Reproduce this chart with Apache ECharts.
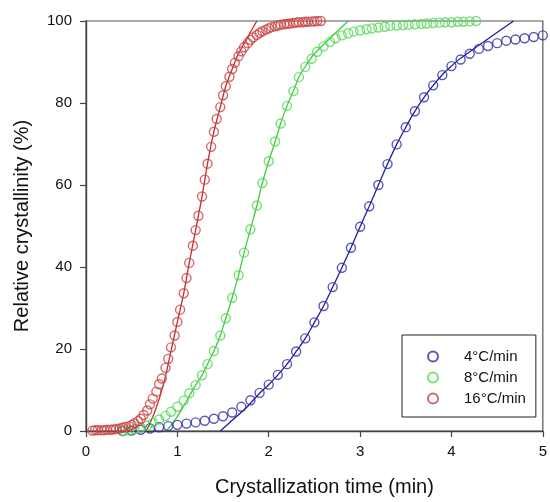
<!DOCTYPE html>
<html>
<head>
<meta charset="utf-8">
<script src="https://cdn.jsdelivr.net/npm/echarts@6/dist/echarts.min.js"></script>
<style>html,body{margin:0;padding:0;background:#fff}#c{width:550px;height:502px}</style>
</head>
<body>
<div id="c"></div>
<script>
// ---- data ----
const xTicks = [0, 1, 2, 3, 4, 5];
const yTicks = [0, 20, 40, 60, 80, 100];
const seriesNames = ['4°C/min', '8°C/min', '16°C/min'];

const blueX = [0.4,0.5,0.6,0.7,0.8,0.9,1.0,1.1,1.2,1.3,1.4,1.5,1.6,1.7,1.8,1.9,2.0,2.1,2.2,2.3,2.4,2.5,2.6,2.7,2.8,2.9,3.0,3.1,3.2,3.3,3.4,3.5,3.6,3.7,3.8,3.9,4.0,4.1,4.2,4.3,4.4,4.5,4.6,4.7,4.8,4.9,5.0];
const blueY = [0,0.1,0.3,0.6,0.9,1.2,1.5,1.8,2.1,2.5,3.0,3.6,4.5,5.9,7.5,9.3,11.3,13.7,16.3,19.4,22.6,26.5,30.5,35.1,39.8,44.7,49.8,54.8,60.0,65.1,69.9,74.1,78.0,81.4,84.3,86.8,89.0,90.6,92.0,93.2,93.9,94.6,95.2,95.5,95.8,96.1,96.5];

const greenX = [0.40,0.47,0.53,0.60,0.67,0.73,0.80,0.87,0.93,1.00,1.07,1.13,1.20,1.27,1.33,1.40,1.47,1.53,1.60,1.67,1.73,1.80,1.87,1.93,2.00,2.07,2.13,2.20,2.27,2.33,2.40,2.47,2.53,2.60,2.67,2.73,2.80,2.87,2.93,3.00,3.07,3.13,3.20,3.27,3.33,3.40,3.47,3.53,3.60,3.67,3.73,3.80,3.87,3.93,4.00,4.07,4.13,4.20,4.27];
const greenY = [0.0,0.1,0.4,0.8,1.3,2.0,2.8,3.7,4.7,5.9,7.4,9.2,11.2,13.6,16.3,19.5,23.3,27.5,32.5,38.0,43.5,49.2,55.0,60.5,65.8,70.6,75.0,79.3,82.9,86.3,88.8,90.8,92.5,93.8,94.9,95.8,96.5,97.0,97.4,97.7,98.0,98.2,98.4,98.6,98.8,98.9,99.0,99.1,99.2,99.3,99.4,99.5,99.6,99.7,99.7,99.8,99.8,99.9,100];

const redX = [0.07,0.10,0.13,0.17,0.20,0.23,0.27,0.30,0.33,0.37,0.40,0.43,0.47,0.50,0.53,0.57,0.60,0.63,0.67,0.70,0.73,0.77,0.80,0.83,0.87,0.90,0.93,0.97,1.00,1.03,1.07,1.10,1.13,1.17,1.20,1.23,1.27,1.30,1.33,1.37,1.40,1.43,1.47,1.50,1.53,1.57,1.60,1.63,1.67,1.70,1.73,1.77,1.80,1.83,1.87,1.90,1.93,1.97,2.00,2.03,2.07,2.10,2.13,2.17,2.20,2.23,2.27,2.30,2.33,2.37,2.40,2.43,2.47,2.50,2.53,2.57];
const redY = [0.1,0.2,0.2,0.2,0.2,0.3,0.3,0.4,0.5,0.6,0.8,1.0,1.2,1.5,1.9,2.4,3.0,3.9,5.0,6.5,7.9,9.6,11.4,12.8,15.4,17.6,20.4,23.3,26.6,29.6,33.6,37.3,41.0,45.2,49.0,52.5,57.2,61.3,65.2,69.3,73.0,76.1,79.0,81.9,84.1,86.4,88.3,89.8,91.4,92.6,93.6,94.6,95.4,96.0,96.6,97.1,97.5,97.9,98.2,98.5,98.7,98.9,99.1,99.2,99.3,99.4,99.5,99.6,99.7,99.7,99.8,99.8,99.9,99.9,100,100];

// fitted lines
const blueFitX = [1.47,1.60,1.75,1.90,2.00,2.10,2.20,2.30,2.40,2.50,2.60,2.70,2.80,2.90,3.00,3.10,3.20,3.30,3.40,3.50,3.60,3.70,3.80,3.90,4.00,4.10,4.68];
const blueFitY = [0,2.6,5.6,9.2,11.3,13.7,16.3,19.4,22.6,26.5,30.5,35.1,39.8,44.7,49.8,54.8,60.0,65.1,69.9,74.1,78.0,81.4,84.3,86.9,89.0,90.9,100];
const greenFitX = [0.88,1.00,1.10,1.20,1.27,1.33,1.40,1.47,1.53,1.60,1.67,1.73,1.80,1.87,1.93,2.00,2.07,2.13,2.20,2.27,2.33,2.40,2.50,2.87];
const greenFitY = [0,3.5,7.3,11.2,13.6,16.3,19.5,23.3,27.5,32.5,38.0,43.5,49.2,55.0,60.5,65.8,70.6,75.0,79.3,82.9,86.3,88.9,92.0,100];
const redFitX = [0.66,0.75,0.85,0.93,1.00,1.07,1.13,1.20,1.27,1.33,1.40,1.47,1.53,1.60,1.66,1.87];
const redFitY = [0,4.5,11.5,19.5,26.6,33.6,41.0,49.0,57.2,65.2,73.0,79.0,84.1,88.3,91.6,100];

// ---- chart ----
const FONT = '"Liberation Sans", Arial, sans-serif';
const zip = (a, b) => a.map((v, i) => [v, b[i]]);
const markColors = ['#2e2eaa', '#55d855', '#c84444'];
const lineColors = ['#1e1e9c', '#3ccc3c', '#c42a2a'];

function scatter(name, xs, ys, c) {
  return {
    name, type: 'scatter', data: zip(xs, ys), symbol: 'circle', symbolSize: 9, z: 3,
    itemStyle: { color: 'rgba(0,0,0,0)', borderColor: c, borderWidth: 1.4 },
    emphasis: { disabled: true }
  };
}
function fit(xs, ys, c) {
  return {
    type: 'line', data: zip(xs, ys), showSymbol: false, symbol: 'none', smooth: 0.3, z: 2,
    lineStyle: { color: c, width: 1.3 }, silent: true
  };
}

const chart = echarts.init(document.getElementById('c'), null, { renderer: 'canvas' });
chart.setOption({
  animation: false,
  backgroundColor: '#fff',
  textStyle: { fontFamily: FONT },
  grid: { left: 86, right: 3, top: 21, bottom: 66, show: true, borderColor: '#555', borderWidth: 1.2, backgroundColor: 'transparent' },
  legend: {
    data: seriesNames, orient: 'vertical', left: 402, top: 335,
    padding: [14, 10, 11, 25], itemWidth: 10, itemHeight: 10, itemGap: 6,
    borderColor: '#222', borderWidth: 1, icon: 'circle',
    textStyle: { fontSize: 15, lineHeight: 14, color: '#111', fontFamily: FONT, padding: [0, 0, 0, 21] }
  },
  xAxis: {
    type: 'value', min: xTicks[0], max: xTicks[xTicks.length - 1], interval: 1,
    name: 'Crystallization time (min)', nameLocation: 'middle', nameGap: 46,
    nameTextStyle: { fontSize: 20, color: '#111', padding: [0, 0, 0, 20] },
    axisLine: { lineStyle: { color: '#444', width: 1.4 } },
    axisTick: { show: true, inside: false, length: 6, lineStyle: { color: '#444', width: 1.2 } },
    axisLabel: { fontSize: 15, color: '#111', margin: 13 },
    splitLine: { show: false }
  },
  yAxis: {
    type: 'value', min: yTicks[0], max: yTicks[yTicks.length - 1], interval: 20,
    name: 'Relative crystallinity (%)', nameLocation: 'middle', nameGap: 54,
    nameTextStyle: { fontSize: 20, color: '#111' },
    axisLine: { show: true, lineStyle: { color: '#444', width: 1.4 } },
    axisTick: { show: true, inside: false, length: 6, lineStyle: { color: '#444', width: 1.2 } },
    axisLabel: { fontSize: 15, color: '#111', margin: 14 },
    splitLine: { show: false }
  },
  series: [
    fit(blueFitX, blueFitY, lineColors[0]),
    fit(greenFitX, greenFitY, lineColors[1]),
    fit(redFitX, redFitY, lineColors[2]),
    scatter(seriesNames[0], blueX, blueY, markColors[0]),
    scatter(seriesNames[1], greenX, greenY, markColors[1]),
    scatter(seriesNames[2], redX, redY, markColors[2])
  ]
});
</script>
</body>
</html>
